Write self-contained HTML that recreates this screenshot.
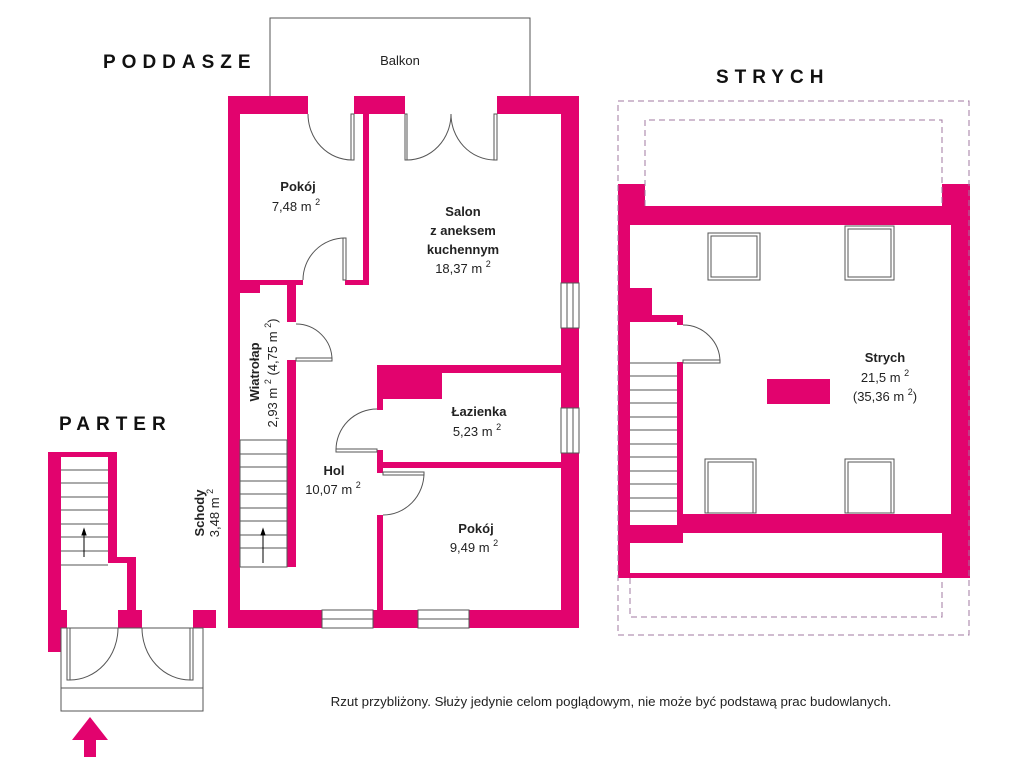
<!DOCTYPE html>
<html><head><meta charset="utf-8"><style>
html,body{margin:0;padding:0;background:#fff;}
svg{display:block;font-family:"Liberation Sans",sans-serif;}
</style></head><body>
<svg width="1024" height="768" viewBox="0 0 1024 768" xmlns="http://www.w3.org/2000/svg">
<g fill="#E2036E">
<rect x="228" y="96" width="80" height="18"/>
<rect x="354" y="96" width="51" height="18"/>
<rect x="497" y="96" width="82" height="18"/>
<rect x="228" y="96" width="12" height="532"/>
<rect x="561" y="96" width="18" height="187"/>
<rect x="561" y="328" width="18" height="80"/>
<rect x="561" y="453" width="18" height="175"/>
<rect x="363" y="114" width="6" height="171"/>
<rect x="345" y="280" width="24" height="5"/>
<rect x="240" y="280" width="63" height="5"/>
<rect x="240" y="285" width="20" height="8"/>
<rect x="287" y="285" width="9" height="37"/>
<rect x="287" y="360" width="9" height="207"/>
<rect x="228" y="610" width="94" height="18"/>
<rect x="373" y="610" width="45" height="18"/>
<rect x="469" y="610" width="110" height="18"/>
<rect x="377" y="365" width="184" height="8"/>
<rect x="377" y="365" width="65" height="34"/>
<rect x="377" y="365" width="6" height="45"/>
<rect x="377" y="450" width="6" height="23"/>
<rect x="377" y="462" width="184" height="6"/>
<rect x="377" y="515" width="6" height="95"/>
<rect x="618" y="184" width="12" height="394"/>
<rect x="618" y="184" width="27" height="22"/>
<rect x="942" y="184" width="28" height="22"/>
<rect x="618" y="206" width="352" height="19"/>
<rect x="951" y="184" width="19" height="394"/>
<rect x="942" y="532" width="28" height="46"/>
<rect x="630" y="288" width="22" height="27"/>
<rect x="630" y="315" width="53" height="7"/>
<rect x="677" y="315" width="6" height="10"/>
<rect x="677" y="362" width="6" height="164"/>
<rect x="677" y="514" width="274" height="19"/>
<rect x="630" y="525" width="53" height="18"/>
<rect x="630" y="573" width="321" height="5"/>
<rect x="767" y="379" width="63" height="25"/>
<rect x="48" y="452" width="13" height="200"/>
<rect x="48" y="452" width="69" height="5"/>
<rect x="108" y="452" width="9" height="111"/>
<rect x="108" y="557" width="28" height="6"/>
<rect x="127" y="557" width="9" height="55"/>
<rect x="118" y="610" width="24" height="18"/>
<rect x="193" y="610" width="23" height="18"/>
<rect x="48" y="610" width="19" height="18"/>
<polygon points="90,717 108,740 96,740 96,757 84,757 84,740 72,740"/>
</g>
<g fill="none" stroke="#555" stroke-width="1">
<polyline points="270,96 270,18 530,18 530,96"/>
<rect x="561" y="283" width="18" height="45"/><line x1="567" y1="283" x2="567" y2="328"/><line x1="573" y1="283" x2="573" y2="328"/>
<rect x="561" y="408" width="18" height="45"/><line x1="567" y1="408" x2="567" y2="453"/><line x1="573" y1="408" x2="573" y2="453"/>
<rect x="322" y="610" width="51" height="18"/><line x1="322" y1="619" x2="373" y2="619"/>
<rect x="418" y="610" width="51" height="18"/><line x1="418" y1="619" x2="469" y2="619"/>
<rect x="351" y="114" width="3" height="46"/><path d="M308,114 A44,46 0 0 0 352,160"/>
<rect x="405" y="114" width="2" height="46"/><path d="M407,160 A44,46 0 0 0 451,114"/>
<rect x="494" y="114" width="3" height="46"/><path d="M494,160 A44,46 0 0 1 451,114"/>
<rect x="343" y="238" width="3" height="42"/><path d="M303,280 A42,42 0 0 1 345,238"/>
<rect x="296" y="358" width="36" height="3"/><path d="M296,324 A36,36 0 0 1 332,360"/>
<rect x="336" y="449" width="41" height="3"/><path d="M377,409 A41,41 0 0 0 336,450"/>
<rect x="383" y="472" width="41" height="3"/><path d="M424,473 A41,42 0 0 1 383,515"/>
<rect x="683" y="360" width="37" height="3"/><path d="M683,325 A37,37 0 0 1 720,362"/>
<rect x="240" y="440" width="47" height="127"/>
<path d="M240,454H287M240,467H287M240,481H287M240,494H287M240,508H287M240,521H287M240,535H287M240,548H287"/>
<path d="M630,363H677M630,376H677M630,390H677M630,403H677M630,417H677M630,430H677M630,444H677M630,457H677M630,471H677M630,484H677M630,498H677M630,511H677"/>
<rect x="708" y="233" width="52" height="47"/><rect x="711" y="236" width="46" height="41"/>
<rect x="845" y="226" width="49" height="54"/><rect x="848" y="229" width="43" height="48"/>
<rect x="705" y="459" width="51" height="54"/><rect x="708" y="462" width="45" height="51"/>
<rect x="845" y="459" width="49" height="54"/><rect x="848" y="462" width="43" height="51"/>
<path d="M61,470H108M61,483H108M61,497H108M61,510H108M61,524H108M61,537H108M61,551H108M61,565H108"/>
<rect x="61" y="628" width="142" height="83"/><line x1="61" y1="688" x2="203" y2="688"/>
<rect x="67" y="628" width="3" height="52"/><path d="M70,680 A48,52 0 0 0 118,628"/>
<rect x="190" y="628" width="3" height="52"/><path d="M190,680 A48,52 0 0 1 142,628"/>
</g>
<g fill="none" stroke="#a07aa0" stroke-width="1" stroke-dasharray="6,4">
<rect x="618" y="101" width="351" height="534"/>
<polyline points="645,206 645,120 942,120 942,206"/>
<polyline points="630,578 630,617 942,617 942,578"/>
</g>
<g stroke="#000" stroke-width="1" fill="#000">
<line x1="263" y1="563" x2="263" y2="534"/><polygon points="263,529 261,535 265,535"/>
<line x1="84" y1="557" x2="84" y2="534"/><polygon points="84,529 82,535 86,535"/>
</g>
<g fill="#222" font-size="13" text-anchor="middle">
<text x="400" y="65">Balkon</text>
<text x="298" y="191" font-weight="bold">Pokój</text>
<text x="296" y="211">7,48 m <tspan font-size="9" dy="-6">2</tspan></text>
<text x="463" y="216" font-weight="bold">Salon</text>
<text x="463" y="235" font-weight="bold">z aneksem</text>
<text x="463" y="254" font-weight="bold">kuchennym</text>
<text x="463" y="273">18,37 m <tspan font-size="9" dy="-6">2</tspan></text>
<text x="479" y="416" font-weight="bold">Łazienka</text>
<text x="477" y="436">5,23 m <tspan font-size="9" dy="-6">2</tspan></text>
<text x="334" y="475" font-weight="bold">Hol</text>
<text x="333" y="494">10,07 m <tspan font-size="9" dy="-6">2</tspan></text>
<text x="476" y="533" font-weight="bold">Pokój</text>
<text x="474" y="552">9,49 m <tspan font-size="9" dy="-6">2</tspan></text>
<text x="885" y="362" font-weight="bold">Strych</text>
<text x="885" y="382">21,5 m <tspan font-size="9" dy="-6">2</tspan></text>
<text x="885" y="401">(35,36 m <tspan font-size="9" dy="-6">2</tspan><tspan dy="6">)</tspan></text>
<text transform="translate(259,372) rotate(-90)" font-weight="bold">Wiatrołap</text>
<text transform="translate(277,373) rotate(-90)">2,93 m <tspan font-size="9" dy="-6">2</tspan><tspan dy="6"> (4,75 m </tspan><tspan font-size="9" dy="-6">2</tspan><tspan dy="6">)</tspan></text>
<text transform="translate(204,513) rotate(-90)" font-weight="bold">Schody</text>
<text transform="translate(219,513) rotate(-90)">3,48 m <tspan font-size="9" dy="-6">2</tspan></text>
<text x="611" y="706" font-size="13.3">Rzut przybliżony. Służy jedynie celom poglądowym, nie może być podstawą prac budowlanych.</text>
</g>
<g fill="#111" font-size="19" font-weight="bold" letter-spacing="6">
<text x="103" y="68">PODDASZE</text>
<text x="716" y="83">STRYCH</text>
<text x="59" y="430">PARTER</text>
</g>
</svg>
</body></html>
